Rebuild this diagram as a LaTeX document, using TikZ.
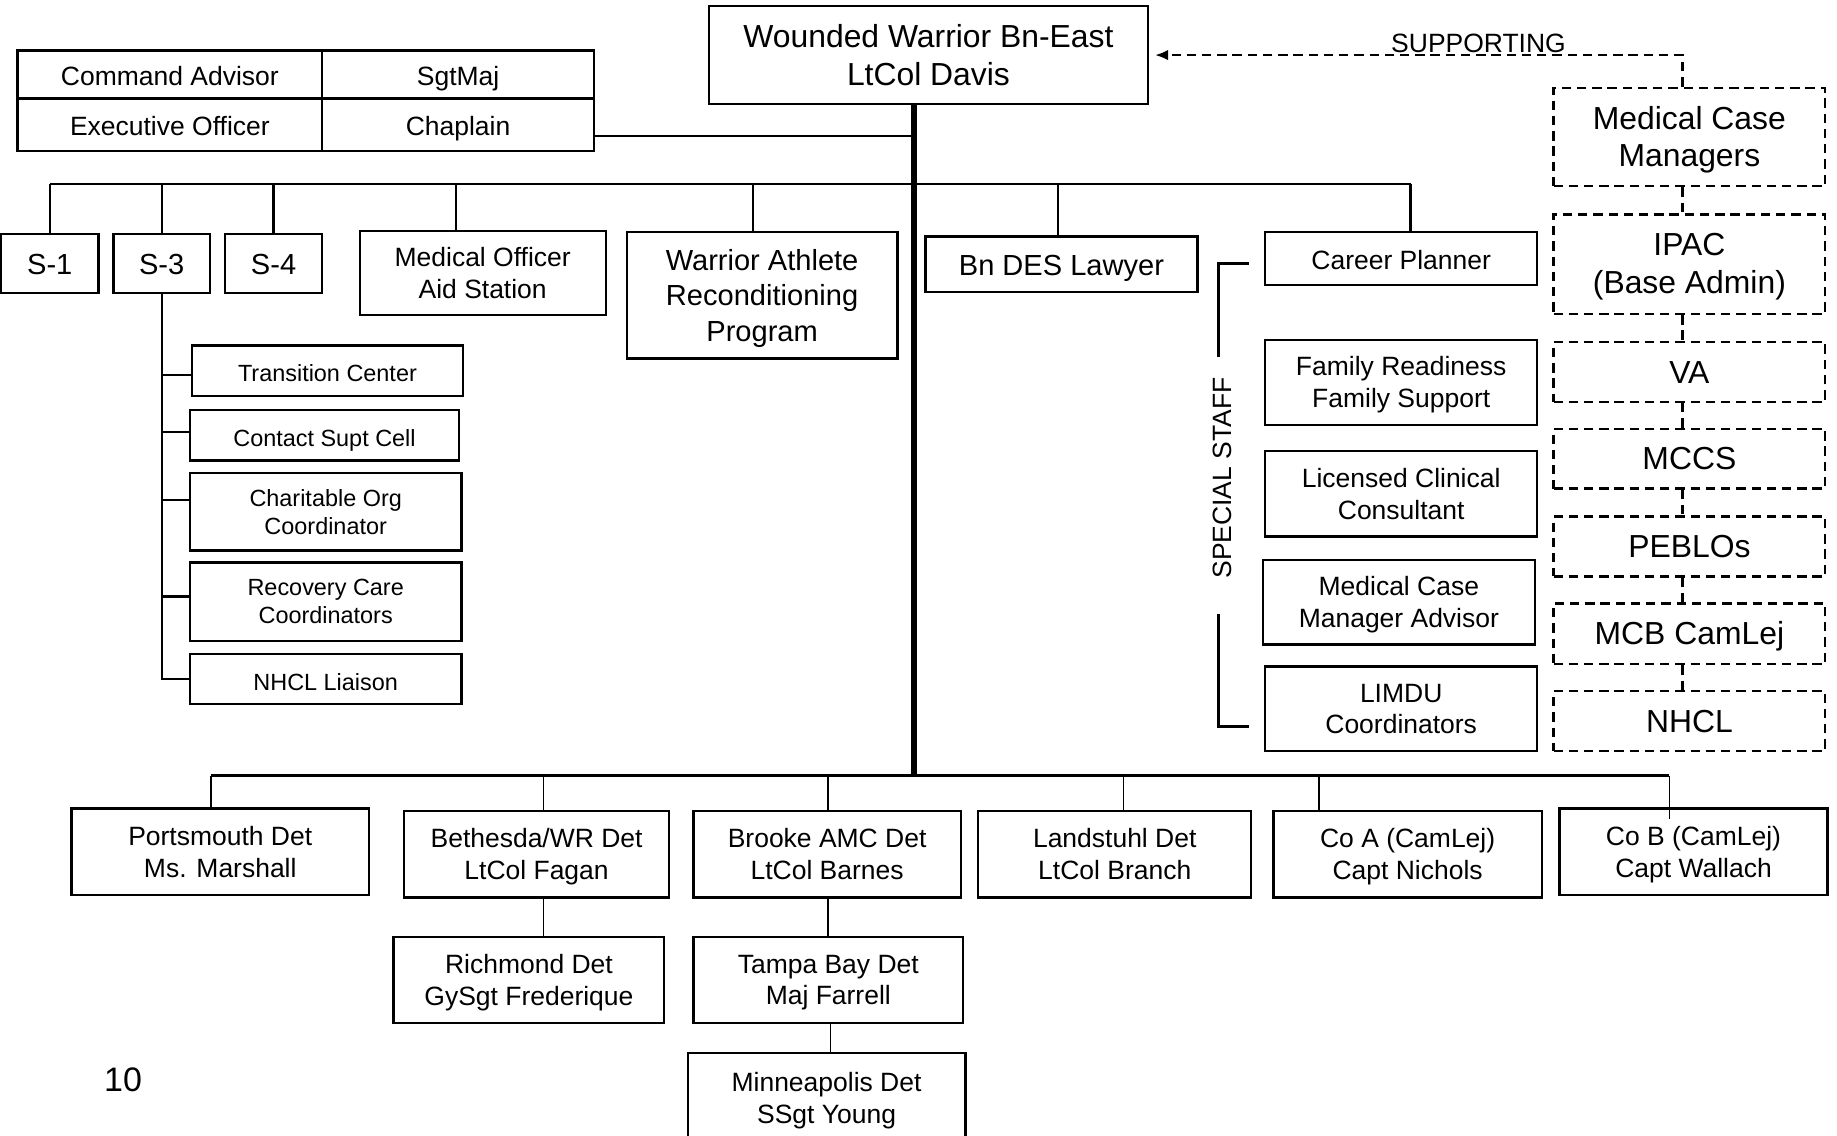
\documentclass[tikz,border=0pt]{standalone}
\usepackage{fontspec}
\setmainfont{Liberation Sans}
\usetikzlibrary{arrows.meta}

\tikzset{
  box/.style={draw, line width=1pt, align=center, inner sep=0pt},
  dbox/.style={box, dash pattern=on 4pt off 2.5pt},
  wh/.style 2 args={minimum width=#1*0.5pt, minimum height=#2*0.5pt},
  oneline/.style={text height=1.05em, text depth=0.1em},
  tdp/.style={text depth=#1},
  txthuge/.style={font=\fontsize{13.6}{16}\selectfont},
  txtbig/.style={font=\fontsize{12.4}{15.2}\selectfont},
  txtmid/.style={font=\fontsize{11.3}{13.5}\selectfont},
  txtsml/.style={font=\fontsize{10}{12}\selectfont},
  link/.style={line width=1pt},
  thinlink/.style={line width=0.7pt},
  dlink/.style={line width=1pt, dash pattern=on 4pt off 2.5pt},
}

\begin{document}
\begin{tikzpicture}[x=0.5pt,y=-0.5pt]
        \useasboundingbox (0,0) rectangle (1568,969.6);
        % commander and his table
        \node[box, txthuge, wh={375}{84}] (wwbn) at (792.5,47) {Wounded Warrior Bn-East\\LtCol Davis};
        \node[box, txtmid, oneline, wh={260}{41}] (cmdadv) at (145,63.5) {Command Advisor};
        \node[box, txtmid, oneline, wh={232}{41}] (sgtmaj) at (391,63.5) {SgtMaj};
        \node[box, txtmid, oneline, wh={260}{45}] (xo) at (145,106.5) {Executive Officer};
        \node[box, txtmid, oneline, wh={232}{45}] (chaplain) at (391,106.5) {Chaplain};
        % staff row
        \node[box, txtbig, oneline, wh={83}{50}] (s1) at (42.5,225) {S-1};
        \node[box, txtbig, oneline, wh={82}{50}] (s3) at (138,225) {S-3};
        \node[box, txtbig, oneline, wh={83}{50}] (s4) at (233.5,225) {S-4};
        \node[box, txtmid, wh={210}{72}] (medoff) at (412,233) {Medical Officer\\Aid Station};
        \node[box, txtbig, tdp=-0.35pt, wh={231}{108}] (athlete) at (650.5,252) {Warrior Athlete\\Reconditioning\\Program};
        \node[box, txtbig, oneline, wh={232}{47}] (deslaw) at (906,225.5) {Bn DES Lawyer};
        \node[box, txtmid, oneline, wh={232}{45}] (career) at (1196,220.5) {Career Planner};
        % under S-3
        \node[box, txtsml, oneline, wh={231}{43}] (transc) at (279.5,316.5) {Transition Center};
        \node[box, txtsml, oneline, wh={230}{43}] (contact) at (277,371.5) {Contact Supt Cell};
        \node[box, txtsml, tdp=-1pt, wh={232}{66}] (charity) at (278,437) {Charitable Org\\Coordinator};
        \node[box, txtsml, tdp=-1pt, wh={232}{67}] (rcc) at (278,513.5) {Recovery Care\\Coordinators};
        \node[box, txtsml, oneline, wh={232}{43}] (liaison) at (278,579.5) {NHCL Liaison};
        % special staff
        \node[box, txtmid, tdp=0.35pt, wh={232}{73}] (family) at (1196,326.5) {Family Readiness\\Family Support};
        \node[box, txtmid, tdp=0pt, wh={232}{73}] (lcc) at (1196,421.5) {Licensed Clinical\\Consultant};
        \node[box, txtmid, tdp=0.35pt, wh={232}{72}] (mcmadv) at (1194,514) {Medical Case\\Manager Advisor};
        \node[box, txtmid, tdp=-1pt, wh={232}{72}] (limdu) at (1196,605) {LIMDU\\Coordinators};
        \node[txtmid, rotate=90, inner sep=0pt] (special) at (1043,408) {SPECIAL STAFF};
        % supporting agencies
        \node[dbox, txthuge, tdp=0.6pt, wh={232}{84}] (mcm) at (1442,117) {Medical Case\\Managers};
        \node[dbox, txthuge, tdp=0.6pt, wh={232}{85}] (ipac) at (1442,225.5) {IPAC\\(Base Admin)};
        \node[dbox, txthuge, oneline, wh={232}{51}] (va) at (1442,317.5) {VA};
        \node[dbox, txthuge, oneline, wh={232}{51}] (mccs) at (1442,391.5) {MCCS};
        \node[dbox, txthuge, oneline, wh={232}{51}] (peblo) at (1442,466.5) {PEBLOs};
        \node[dbox, txthuge, oneline, wh={232}{52}] (mcb) at (1442,541) {MCB CamLej};
        \node[dbox, txthuge, oneline, wh={232}{51}] (nhcl) at (1442,615.5) {NHCL};
        \node[txtmid, anchor=base, inner sep=0pt] (supp) at (1262,45) {SUPPORTING};
        % detachments
        \node[box, txtmid, tdp=-1.6pt, wh={254}{74}] (portsm) at (188,727) {Portsmouth Det\\Ms. Marshall};
        \node[box, txtmid, tdp=-1.6pt, wh={226}{74}] (bethesda) at (458,729) {Bethesda/WR Det\\LtCol Fagan};
        \node[box, txtmid, tdp=-1.6pt, wh={228}{74}] (brooke) at (706,729) {Brooke AMC Det\\LtCol Barnes};
        \node[box, txtmid, tdp=-1.6pt, wh={233}{74}] (landstuhl) at (951.5,729) {Landstuhl Det\\LtCol Branch};
        \node[box, txtmid, tdp=-1.6pt, wh={229}{74}] (coa) at (1201.5,729) {Co A (CamLej)\\Capt Nichols};
        \node[box, txtmid, tdp=-1.6pt, wh={229}{74}] (cob) at (1445.5,727) {Co B (CamLej)\\Capt Wallach};
        \node[box, txtmid, tdp=-1.6pt, wh={231}{73}] (richmond) at (451.5,836.5) {Richmond Det\\GySgt Frederique};
        \node[box, txtmid, tdp=-1.6pt, wh={230}{73}] (tampa) at (707,836.5) {Tampa Bay Det\\Maj Farrell};
        \node[box, txtmid, tdp=-0.7pt, wh={237}{76}] (minneap) at (705.5,937) {Minneapolis Det\\SSgt Young};
        \node[font=\fontsize{14.5}{17}\selectfont] (pagenum) at (105,922) {10};

        % trunk
        \coordinate (trunktop) at ([xshift=-6.25pt]wwbn.south);
        \coordinate (staffbar) at (780,157);
        \coordinate (detbar) at (780,662);
        \draw[line width=2.3pt] (trunktop) -- (detbar);
        \draw[link] ([yshift=-4.75pt]chaplain.east) -- ([yshift=-4.75pt]chaplain.east -| trunktop);

        % staff bar and drops
        \draw[link] (s1.north |- staffbar) -- ([xshift=4pt]career.north |- staffbar);
        \foreach \n/\dx in {s1/0, s3/0, s4/0, medoff/-23, athlete/-7.5, deslaw/-3, career/8}
            \draw[link] ([xshift=\dx*0.5pt]\n.north) -- ([xshift=\dx*0.5pt]\n.north |- staffbar);

        % S-3 branches
        \draw[link] (s3.south) -- ([yshift=-0.5pt]s3.south |- liaison.west);
        \foreach \n/\dy in {transc/3.5, contact/-2.5, charity/-10, rcc/-4.5, liaison/0}
            \draw[link] ([yshift={-0.5pt*(\dy)}]\n.west) -- ([yshift={-0.5pt*(\dy)}]\n.west -| s3.south);

        % special staff bracket
        \coordinate (sstop) at (1040,305);
        \coordinate (ssbot) at (1040,524);
        \draw[link] ([shift={(-6.5pt,-2.25pt)}]career.west) -| (sstop);
        \draw[link] (ssbot) |- ([shift={(-6.5pt,-7.5pt)}]limdu.west);

        % supporting chain
        \foreach \a/\b in {mcm/ipac, ipac/va, va/mccs, mccs/peblo, peblo/mcb, mcb/nhcl}
            \draw[dlink] ([xshift=-3pt]\a.south) -- ([xshift=-3pt]\b.north);
        \draw[dlink, -{Latex[length=5.5pt,width=4.5pt]}] ([xshift=-3pt]mcm.north) |- ([xshift=2.5pt]wwbn.east);

        % detachment bar and drops
        \draw[link] ([xshift=-4pt]portsm.north |- detbar) -- ([xshift=-10.25pt]cob.north |- detbar);
        \foreach \n/\dx in {portsm/-8, bethesda/6, brooke/1, landstuhl/7.5, coa/-75.5}
            \draw[thinlink] ([xshift=\dx*0.5pt]\n.north |- detbar) -- ([xshift=\dx*0.5pt]\n.north);
        \draw[thinlink] ([xshift=-10.25pt]cob.north |- detbar) -- ([shift={(-10.25pt,-5pt)}]cob.north);
        \draw[thinlink] ([xshift=3pt]bethesda.south) -- ([xshift=3pt]bethesda.south |- richmond.north);
        \draw[thinlink] ([xshift=0.5pt]brooke.south) -- ([xshift=0.5pt]brooke.south |- tampa.north);
        \draw[thinlink] ([xshift=1pt]tampa.south) -- ([xshift=1pt]tampa.south |- minneap.north);
\end{tikzpicture}
\end{document}
